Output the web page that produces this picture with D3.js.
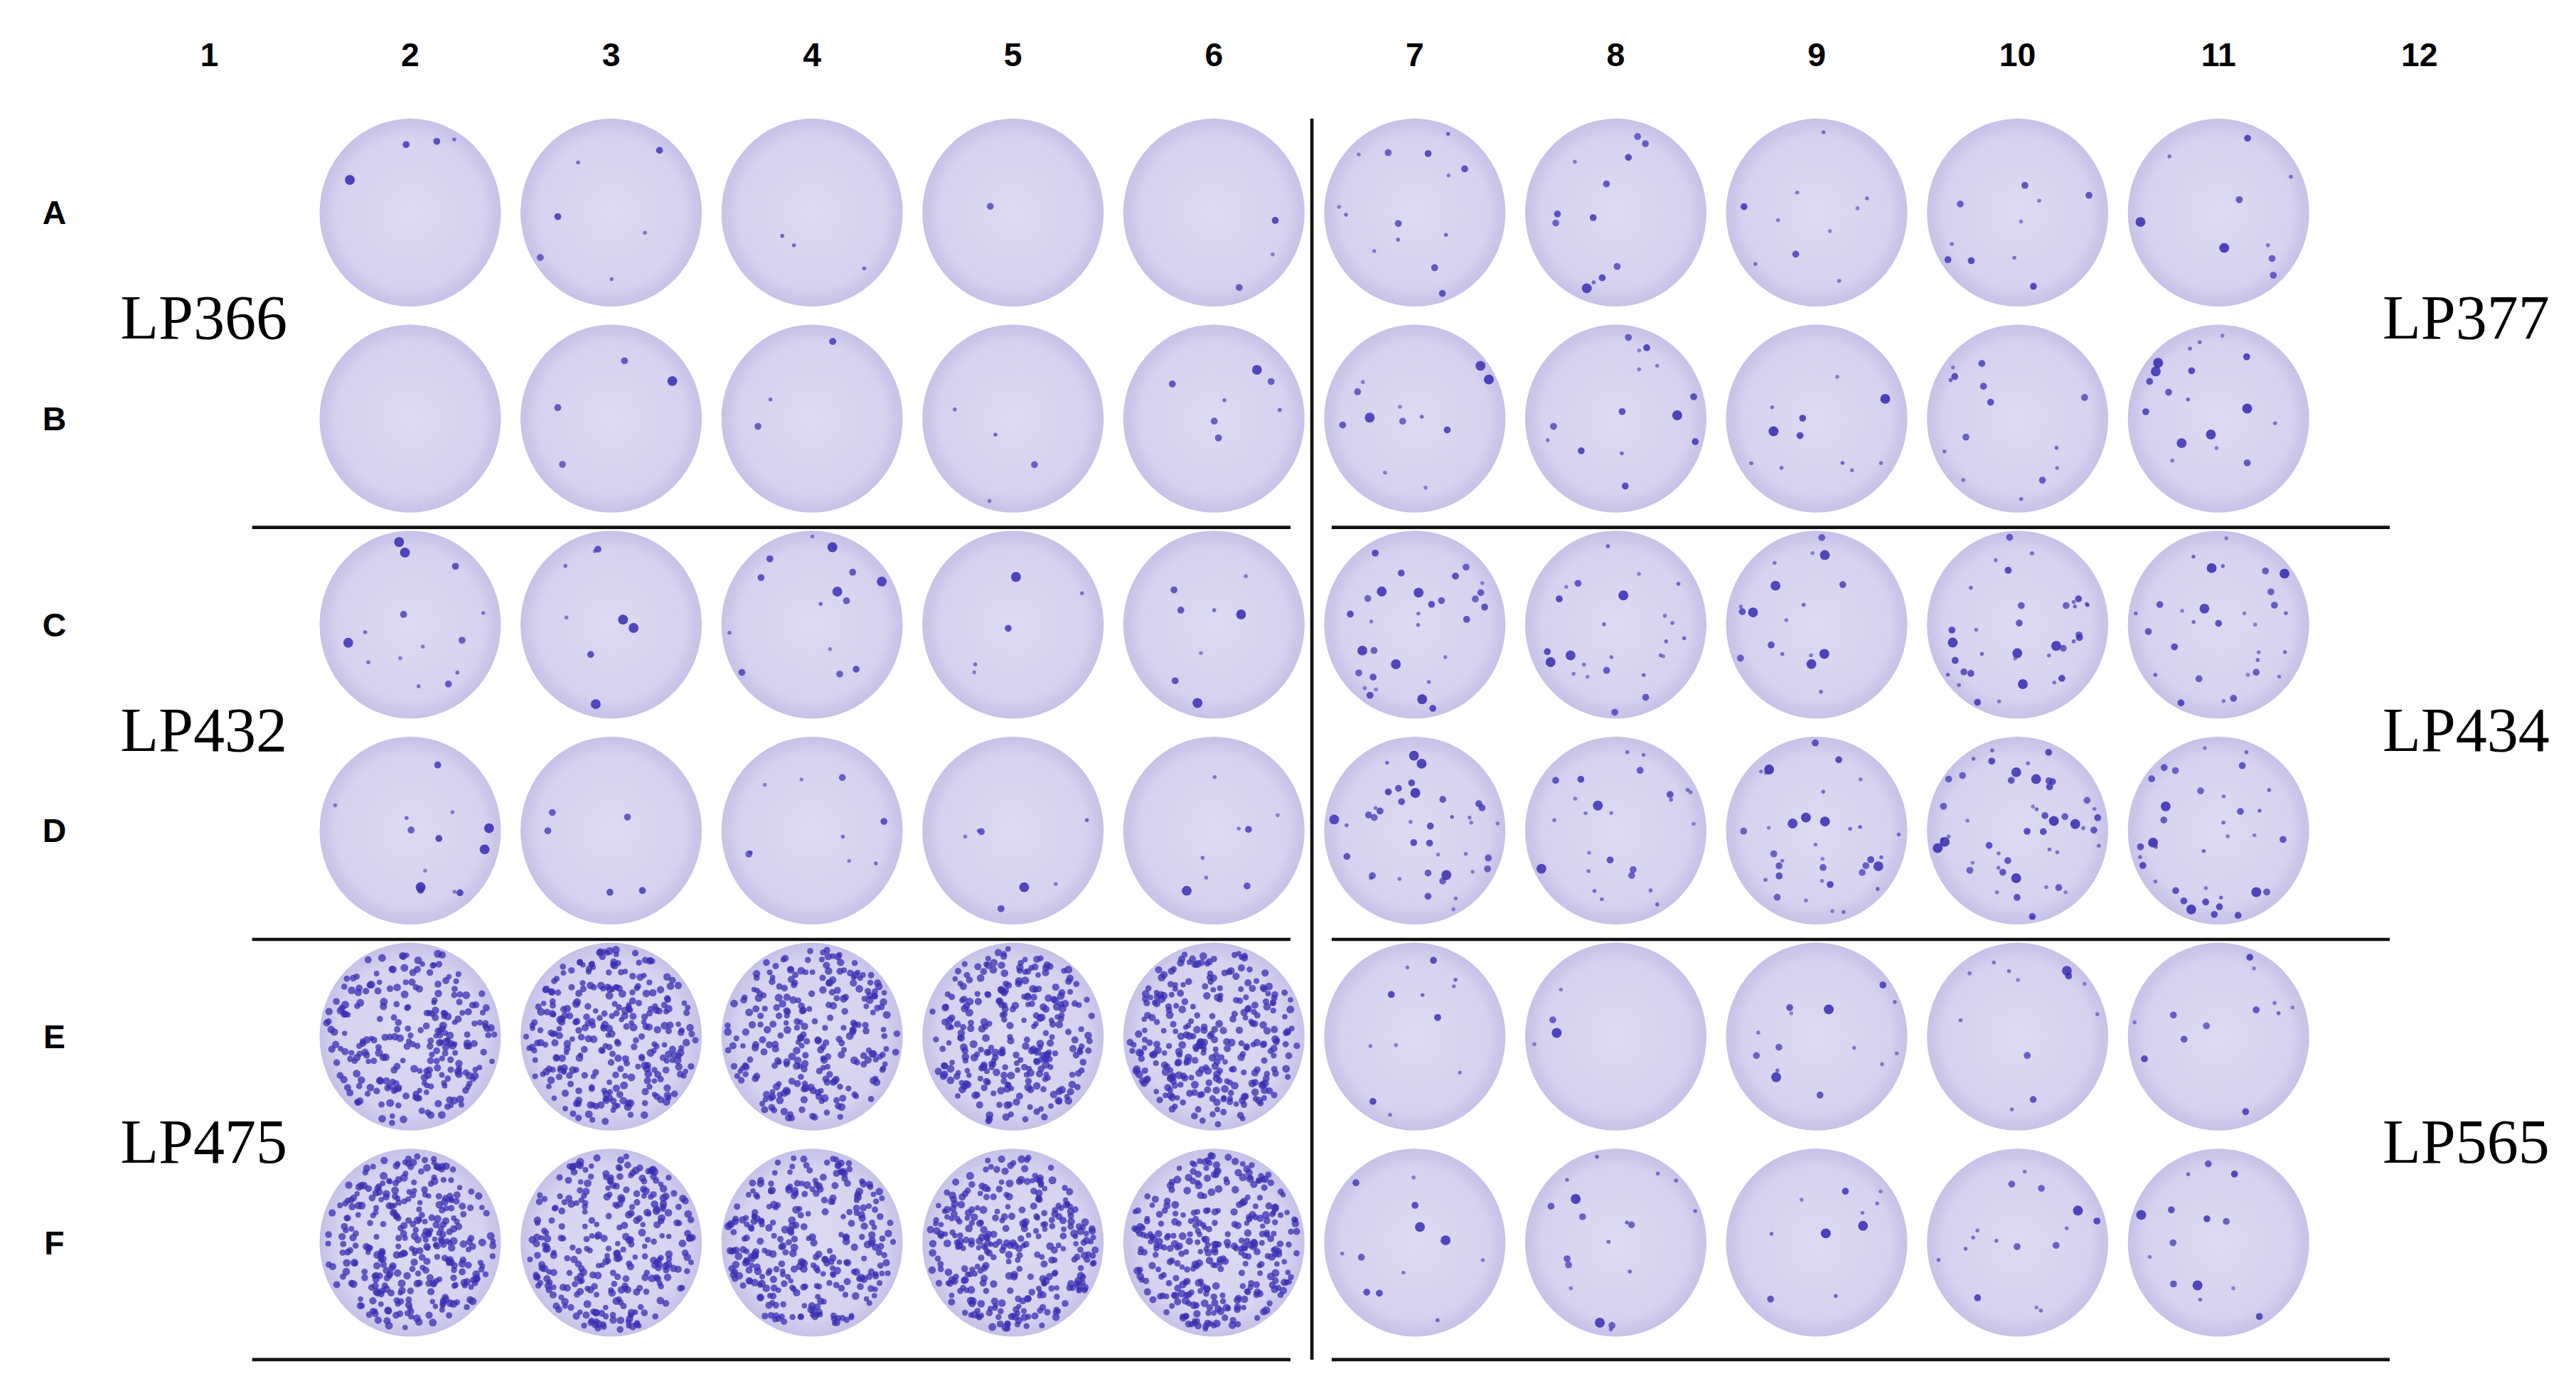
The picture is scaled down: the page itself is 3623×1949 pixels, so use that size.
<!DOCTYPE html>
<html><head><meta charset="utf-8">
<script src="https://cdn.jsdelivr.net/npm/d3@7"></script>
<style>body{margin:0;background:#fff}</style>
</head><body>
<svg id="vis"></svg>
<script>
// plate layout
const columns = ["1","2","3","4","5","6","7","8","9","10","11","12"];
const rows = ["A","B","C","D","E","F"];
const samplesLeft = ["LP366","LP432","LP475"];
const samplesRight = ["LP377","LP434","LP565"];
// estimated spot counts per well, columns 2..11
const spotsA = [4, 6, 3, 1, 3, 14, 12, 10, 10, 9];
const spotsB = [0, 4, 3, 4, 7, 12, 14, 11, 14, 18];
const spotsC = [14, 8, 14, 5, 8, 30, 25, 18, 35, 30];
const spotsD = [13, 5, 9, 7, 8, 40, 25, 35, 50, 35];
const spotsE = [250, 300, 260, 280, 300, 12, 4, 14, 12, 12];
const spotsF = [330, 300, 300, 320, 330, 12, 18, 10, 16, 14];
const counts = [spotsA, spotsB, spotsC, spotsD, spotsE, spotsF];

const W = 1563, H = 841;
const svg = d3.select("#vis")
  .attr("width", 3623).attr("height", 1949)
  .attr("viewBox", `0 0 ${W} ${H}`)
  .attr("preserveAspectRatio", "none");

const x = d3.scalePoint().domain(columns).range([127, 1468]);
const y = d3.scalePoint().domain(rows).range([129, 754]);

const defs = svg.append("defs");
const grad = defs.append("radialGradient").attr("id", "well");
grad.append("stop").attr("offset", "0%").attr("stop-color", "#dddaf2");
grad.append("stop").attr("offset", "80%").attr("stop-color", "#d6d2ef");
grad.append("stop").attr("offset", "100%").attr("stop-color", "#c6c1e7");

// column / row labels
svg.selectAll("text.col").data(columns).join("text")
  .attr("x", d => x(d)).attr("y", 40).attr("text-anchor", "middle")
  .attr("font-family", "Liberation Sans, Arial").attr("font-weight", "bold")
  .attr("font-size", 20).text(d => d);
svg.selectAll("text.row").data(rows).join("text")
  .attr("x", 33).attr("y", d => y(d) + 7).attr("text-anchor", "middle")
  .attr("font-family", "Liberation Sans, Arial").attr("font-weight", "bold")
  .attr("font-size", 20).text(d => d);

// sample labels
samplesLeft.forEach((s, i) => {
  svg.append("text").attr("x", 73).attr("y", (y(rows[i*2]) + y(rows[i*2+1])) / 2 + 14)
    .attr("font-family", "Liberation Serif, Times New Roman").attr("font-size", 38).text(s);
});
samplesRight.forEach((s, i) => {
  svg.append("text").attr("x", 1547).attr("y", (y(rows[i*2]) + y(rows[i*2+1])) / 2 + 14)
    .attr("text-anchor", "end")
    .attr("font-family", "Liberation Serif, Times New Roman").attr("font-size", 38).text(s);
});

// wells
function hash(n) { const s = Math.sin(n * 12.9898 + 78.233) * 43758.5453; return s - Math.floor(s); }
const rx = 55, ry = 57;
rows.forEach((r, ri) => {
  counts[ri].forEach((n, ci) => {
    const col = columns[ci + 1];
    const cx = x(col), cy = y(r);
    const g = svg.append("g");
    g.append("ellipse").attr("cx", cx).attr("cy", cy).attr("rx", rx).attr("ry", ry)
      .attr("fill", "url(#well)");
    const dense = n > 100;
    const seed = ri * 1000 + ci * 37 + 1;
    const pts = d3.range(n).map(k => {
      const a = hash(seed + k * 3.1) * Math.PI * 2;
      const rr = Math.sqrt(hash(seed + k * 7.7 + 0.5)) * 0.94;
      const big = hash(seed + k * 5.3);
      return {
        x: cx + Math.cos(a) * rr * rx,
        y: cy + Math.sin(a) * rr * ry,
        r: dense ? 1.6 + big * 0.8 : (big > 0.85 ? 3.0 : big > 0.45 ? 2.1 : 1.2),
        o: dense ? 0.75 : 0.5 + big * 0.4
      };
    });
    g.selectAll("circle").data(pts).join("circle")
      .attr("cx", d => d.x).attr("cy", d => d.y).attr("r", d => d.r)
      .attr("fill", "#3a2fb3").attr("opacity", d => d.o);
  });
});

// separators
const lineStyle = sel => sel.attr("stroke", "#111").attr("stroke-width", 2);
[320, 570, 825].forEach(yy => {
  svg.append("line").attr("x1", 153).attr("x2", 783).attr("y1", yy).attr("y2", yy).call(lineStyle);
  svg.append("line").attr("x1", 808).attr("x2", 1450).attr("y1", yy).attr("y2", yy).call(lineStyle);
});
svg.append("line").attr("x1", 796).attr("x2", 796).attr("y1", 72).attr("y2", 825).call(lineStyle);
</script>
</body></html>
